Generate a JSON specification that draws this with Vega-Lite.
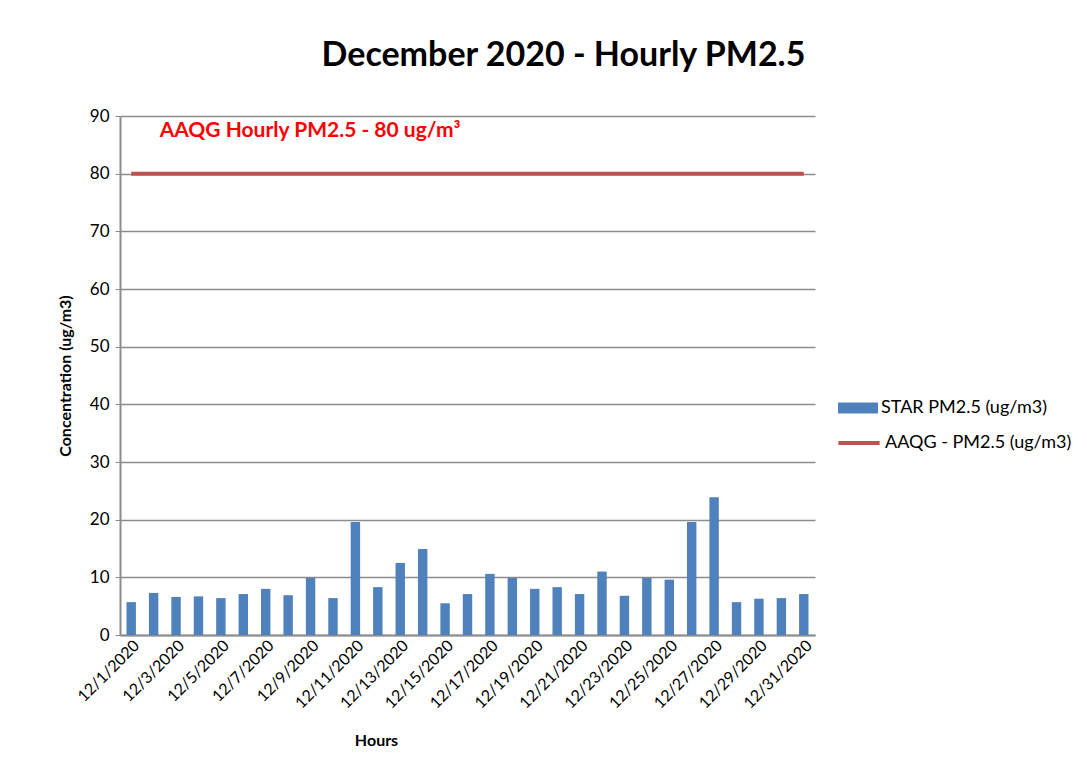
{
  "$schema": "https://vega.github.io/schema/vega-lite/v6.json",
  "autosize": {"type": "none"},
  "width": 695,
  "height": 519,
  "padding": {"left": 120, "top": 116, "right": 272, "bottom": 133},
  "background": "white",
  "config": {
    "font": "Lato",
    "view": {"stroke": null},
    "axis": {"labelFont": "Lato", "titleFont": "Lato", "labelColor": "#000000", "titleColor": "#000000"}
  },
  "title": {
    "text": "December 2020 - Hourly PM2.5",
    "fontSize": 34,
    "fontWeight": "bold",
    "font": "Lato",
    "color": "#000000",
    "anchor": "middle",
    "dx": 96,
    "offset": 34
  },
  "data": {
    "values": [
      {"date": "12/1/2020", "star": 5.7, "aaqg": 80},
      {"date": "12/2/2020", "star": 7.3, "aaqg": 80},
      {"date": "12/3/2020", "star": 6.6, "aaqg": 80},
      {"date": "12/4/2020", "star": 6.7, "aaqg": 80},
      {"date": "12/5/2020", "star": 6.4, "aaqg": 80},
      {"date": "12/6/2020", "star": 7.1, "aaqg": 80},
      {"date": "12/7/2020", "star": 8.0, "aaqg": 80},
      {"date": "12/8/2020", "star": 6.9, "aaqg": 80},
      {"date": "12/9/2020", "star": 9.9, "aaqg": 80},
      {"date": "12/10/2020", "star": 6.4, "aaqg": 80},
      {"date": "12/11/2020", "star": 19.6, "aaqg": 80},
      {"date": "12/12/2020", "star": 8.3, "aaqg": 80},
      {"date": "12/13/2020", "star": 12.5, "aaqg": 80},
      {"date": "12/14/2020", "star": 14.9, "aaqg": 80},
      {"date": "12/15/2020", "star": 5.5, "aaqg": 80},
      {"date": "12/16/2020", "star": 7.1, "aaqg": 80},
      {"date": "12/17/2020", "star": 10.6, "aaqg": 80},
      {"date": "12/18/2020", "star": 9.9, "aaqg": 80},
      {"date": "12/19/2020", "star": 8.0, "aaqg": 80},
      {"date": "12/20/2020", "star": 8.3, "aaqg": 80},
      {"date": "12/21/2020", "star": 7.1, "aaqg": 80},
      {"date": "12/22/2020", "star": 11.0, "aaqg": 80},
      {"date": "12/23/2020", "star": 6.8, "aaqg": 80},
      {"date": "12/24/2020", "star": 9.9, "aaqg": 80},
      {"date": "12/25/2020", "star": 9.6, "aaqg": 80},
      {"date": "12/26/2020", "star": 19.6, "aaqg": 80},
      {"date": "12/27/2020", "star": 23.9, "aaqg": 80},
      {"date": "12/28/2020", "star": 5.7, "aaqg": 80},
      {"date": "12/29/2020", "star": 6.3, "aaqg": 80},
      {"date": "12/30/2020", "star": 6.4, "aaqg": 80},
      {"date": "12/31/2020", "star": 7.1, "aaqg": 80}
    ]
  },
  "encoding": {
    "x": {
      "field": "date",
      "type": "ordinal",
      "sort": null,
      "scale": {"paddingInner": 0, "paddingOuter": 0},
      "axis": {
        "title": "Hours",
        "titleFontSize": 16,
        "titleFontWeight": "bold",
        "titleX": 256,
        "titleY": 105,
        "titleAlign": "center",
        "titleBaseline": "middle",
        "labelAngle": -45,
        "labelFontSize": 16,
        "labelPadding": 2,
        "values": ["12/1/2020","12/3/2020","12/5/2020","12/7/2020","12/9/2020","12/11/2020","12/13/2020","12/15/2020","12/17/2020","12/19/2020","12/21/2020","12/23/2020","12/25/2020","12/27/2020","12/29/2020","12/31/2020"],
        "ticks": false,
        "domainColor": "#8c8c8c",
        "domainWidth": 2,
        "grid": false
      }
    }
  },
  "layer": [
    {
      "mark": {"type": "bar", "width": {"band": 0.42}},
      "encoding": {
        "y": {
          "field": "star",
          "type": "quantitative",
          "scale": {"domain": [0, 90]},
          "axis": {
            "title": "Concentration (ug/m3)",
            "titleFontSize": 16,
            "titleFontWeight": "bold",
            "titlePadding": 16,
            "values": [0,10,20,30,40,50,60,70,80,90],
            "labelFontSize": 17,
            "labelPadding": 6,
            "tickSize": 5,
            "tickColor": "#8c8c8c",
            "domainColor": "#8c8c8c",
            "domainWidth": 2,
            "gridColor": "#8c8c8c",
            "gridWidth": 1.5
          }
        },
        "fill": {
          "datum": "STAR PM2.5 (ug/m3)",
          "scale": {"range": ["#4F81BD"]},
          "legend": {
            "orient": "none",
            "legendX": 718,
            "legendY": 272,
            "title": null,
            "labelFontSize": 18,
            "labelLimit": 300,
            "labelOffset": 3,
            "labelFont": "Lato",
            "labelColor": "#000000",
            "symbolType": "M-1,-0.27H1V0.27H-1Z",
            "symbolSize": 1600,
            "symbolStrokeWidth": 0
          }
        }
      }
    },
    {
      "mark": {"type": "line", "strokeWidth": 4},
      "encoding": {
        "y": {"field": "aaqg", "type": "quantitative"},
        "stroke": {
          "datum": "AAQG - PM2.5 (ug/m3)",
          "scale": {"range": ["#C0504D"]},
          "legend": {
            "orient": "none",
            "legendX": 716,
            "legendY": 304,
            "title": null,
            "labelFontSize": 18,
            "labelLimit": 300,
            "labelOffset": 3,
            "labelFont": "Lato",
            "labelColor": "#000000",
            "symbolType": "stroke",
            "symbolSize": 1700,
            "symbolStrokeWidth": 4
          }
        }
      }
    },
    {
      "data": {"values": [{"date": "12/2/2020", "y": 87.4, "label": "AAQG Hourly PM2.5 - 80 ug/m³"}]},
      "mark": {"type": "text", "align": "left", "baseline": "middle", "dx": 6, "fontSize": 21, "fontWeight": "bold", "color": "#FF0000", "font": "Lato"},
      "encoding": {
        "x": {"field": "date", "type": "ordinal"},
        "y": {"field": "y", "type": "quantitative"},
        "text": {"field": "label"}
      }
    }
  ]
}
